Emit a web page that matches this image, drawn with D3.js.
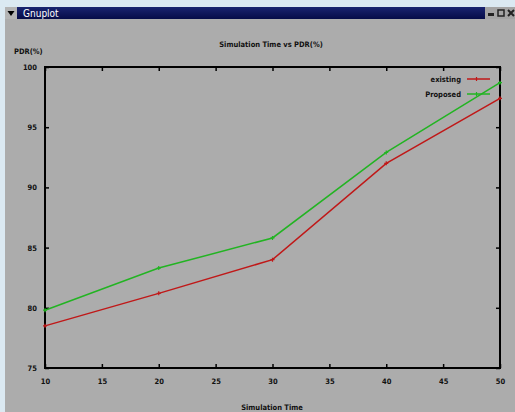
<!DOCTYPE html>
<html>
<head>
<meta charset="utf-8">
<script src="https://cdn.jsdelivr.net/npm/d3@7"></script>
<style>
  body { margin: 0; background: #dbe9f2; }
  svg text { font-family: "DejaVu Sans Condensed", "DejaVu Sans", sans-serif; font-weight: 600; fill: #111; }
</style>
</head>
<body>
<svg id="chart"></svg>
<script>
// Data
const simTime = [10, 20, 30, 40, 50];
const existing = [78.5, 81.2, 84.0, 92.0, 97.4];
const proposed = [79.8, 83.3, 85.8, 92.9, 98.7];
const xTicks = [10, 15, 20, 25, 30, 35, 40, 45, 50];
const yTicks = [75, 80, 85, 90, 95, 100];
const seriesNames = ['existing', 'Proposed'];
const seriesColors = ['#c01818', '#22b422'];

const width = 515;
const height = 412;
const margin = { top: 67, right: 15, bottom: 44, left: 45 };
const plotW = width - margin.left - margin.right;
const plotH = height - margin.top - margin.bottom;

const svg = d3.select('#chart')
  .attr('width', width)
  .attr('height', height);

// desktop + window frame
svg.append('rect').attr('width', width).attr('height', height).attr('fill', '#dbe9f2');
svg.append('rect').attr('x', 5).attr('y', 7).attr('width', width - 5).attr('height', height - 7).attr('fill', '#acacac');

// title bar
const grad = svg.append('defs').append('linearGradient').attr('id', 'bar').attr('x1', 0).attr('x2', 0).attr('y1', 0).attr('y2', 1);
grad.append('stop').attr('offset', 0).attr('stop-color', '#1a2470');
grad.append('stop').attr('offset', 1).attr('stop-color', '#060c48');
svg.append('rect').attr('x', 5).attr('y', 7).attr('width', width - 5).attr('height', 12).attr('fill', 'url(#bar)');
svg.append('rect').attr('x', 5).attr('y', 7).attr('width', 12).attr('height', 12).attr('fill', '#b4b4b4');
svg.append('path').attr('d', 'M7.5,11 L14.5,11 L11,16 Z').attr('fill', '#000');
svg.append('text').attr('x', 23).attr('y', 17)
  .style('font-weight', 'normal').style('font-size', '10px').style('fill', '#fff')
  .text('Gnuplot');
svg.append('rect').attr('x', 485).attr('y', 7).attr('width', 30).attr('height', 12).attr('fill', '#a4a4a4');
svg.append('rect').attr('x', 488).attr('y', 13).attr('width', 6).attr('height', 3).attr('fill', '#222');
svg.append('rect').attr('x', 498).attr('y', 10).attr('width', 6).attr('height', 6).attr('fill', 'none').attr('stroke', '#222').attr('stroke-width', 1.5);
svg.append('path').attr('d', 'M508,10 L514,16 M514,10 L508,16').attr('stroke', '#222').attr('stroke-width', 2);

// scales
const x = d3.scaleLinear().domain([10, 50]).range([0, plotW]);
const y = d3.scaleLinear().domain([75, 100]).range([plotH, 0]);

const g = svg.append('g').attr('transform', `translate(${margin.left},${margin.top})`);

// axes (ticks point inward, mirrored on top and right)
const fontSize = '7.5px';
g.append('g').attr('transform', `translate(0,${plotH})`)
  .call(d3.axisBottom(x).tickValues(xTicks).tickSize(-4).tickPadding(11));
g.append('g')
  .call(d3.axisLeft(y).tickValues(yTicks).tickSize(-4).tickPadding(8));
g.append('g').call(d3.axisTop(x).tickValues(xTicks).tickSize(-4).tickFormat(''));
g.append('g').attr('transform', `translate(${plotW},0)`)
  .call(d3.axisRight(y).tickValues(yTicks).tickSize(-4).tickFormat(''));

g.selectAll('.domain').remove();
g.selectAll('.tick line').attr('stroke', '#000').attr('stroke-width', 1.5);
g.selectAll('.tick text')
  .style('font-family', '"DejaVu Sans Condensed", "DejaVu Sans", sans-serif')
  .style('font-weight', '600')
  .style('font-size', fontSize)
  .attr('fill', '#111');

// frame
g.append('rect').attr('width', plotW).attr('height', plotH)
  .attr('fill', 'none').attr('stroke', '#000').attr('stroke-width', 2);

// lines
const series = [existing, proposed];
const line = d3.line().x((d, i) => x(simTime[i])).y(d => y(d));
series.forEach((vals, s) => {
  g.append('path').datum(vals)
    .attr('fill', 'none')
    .attr('stroke', seriesColors[s])
    .attr('stroke-width', 1.5)
    .attr('d', line);
  g.selectAll(null).data(vals).enter().append('path')
    .attr('d', (d, i) => `M${x(simTime[i]) - 2},${y(d)}h4M${x(simTime[i])},${y(d) - 2}v4`)
    .attr('stroke', seriesColors[s])
    .attr('stroke-width', 1.2);
});

// legend
seriesNames.forEach((name, s) => {
  const ly = 12 + s * 15;
  g.append('text').attr('x', plotW - 39).attr('y', ly + 3)
    .attr('text-anchor', 'end').style('font-size', fontSize).text(name);
  g.append('path').attr('d', `M${plotW - 33},${ly}H${plotW - 10}`)
    .attr('stroke', seriesColors[s]).attr('stroke-width', 1.5);
  g.append('path').attr('d', `M${plotW - 23.5},${ly - 2}v4`)
    .attr('stroke', seriesColors[s]).attr('stroke-width', 1.2);
});

// titles
svg.append('text').attr('x', 271).attr('y', 47)
  .attr('text-anchor', 'middle').style('font-size', fontSize)
  .text('Simulation Time vs PDR(%)');
svg.append('text').attr('x', 14).attr('y', 54)
  .style('font-size', fontSize).text('PDR(%)');
svg.append('text').attr('x', 272).attr('y', 410)
  .attr('text-anchor', 'middle').style('font-size', fontSize)
  .text('Simulation Time');
</script>
</body>
</html>
